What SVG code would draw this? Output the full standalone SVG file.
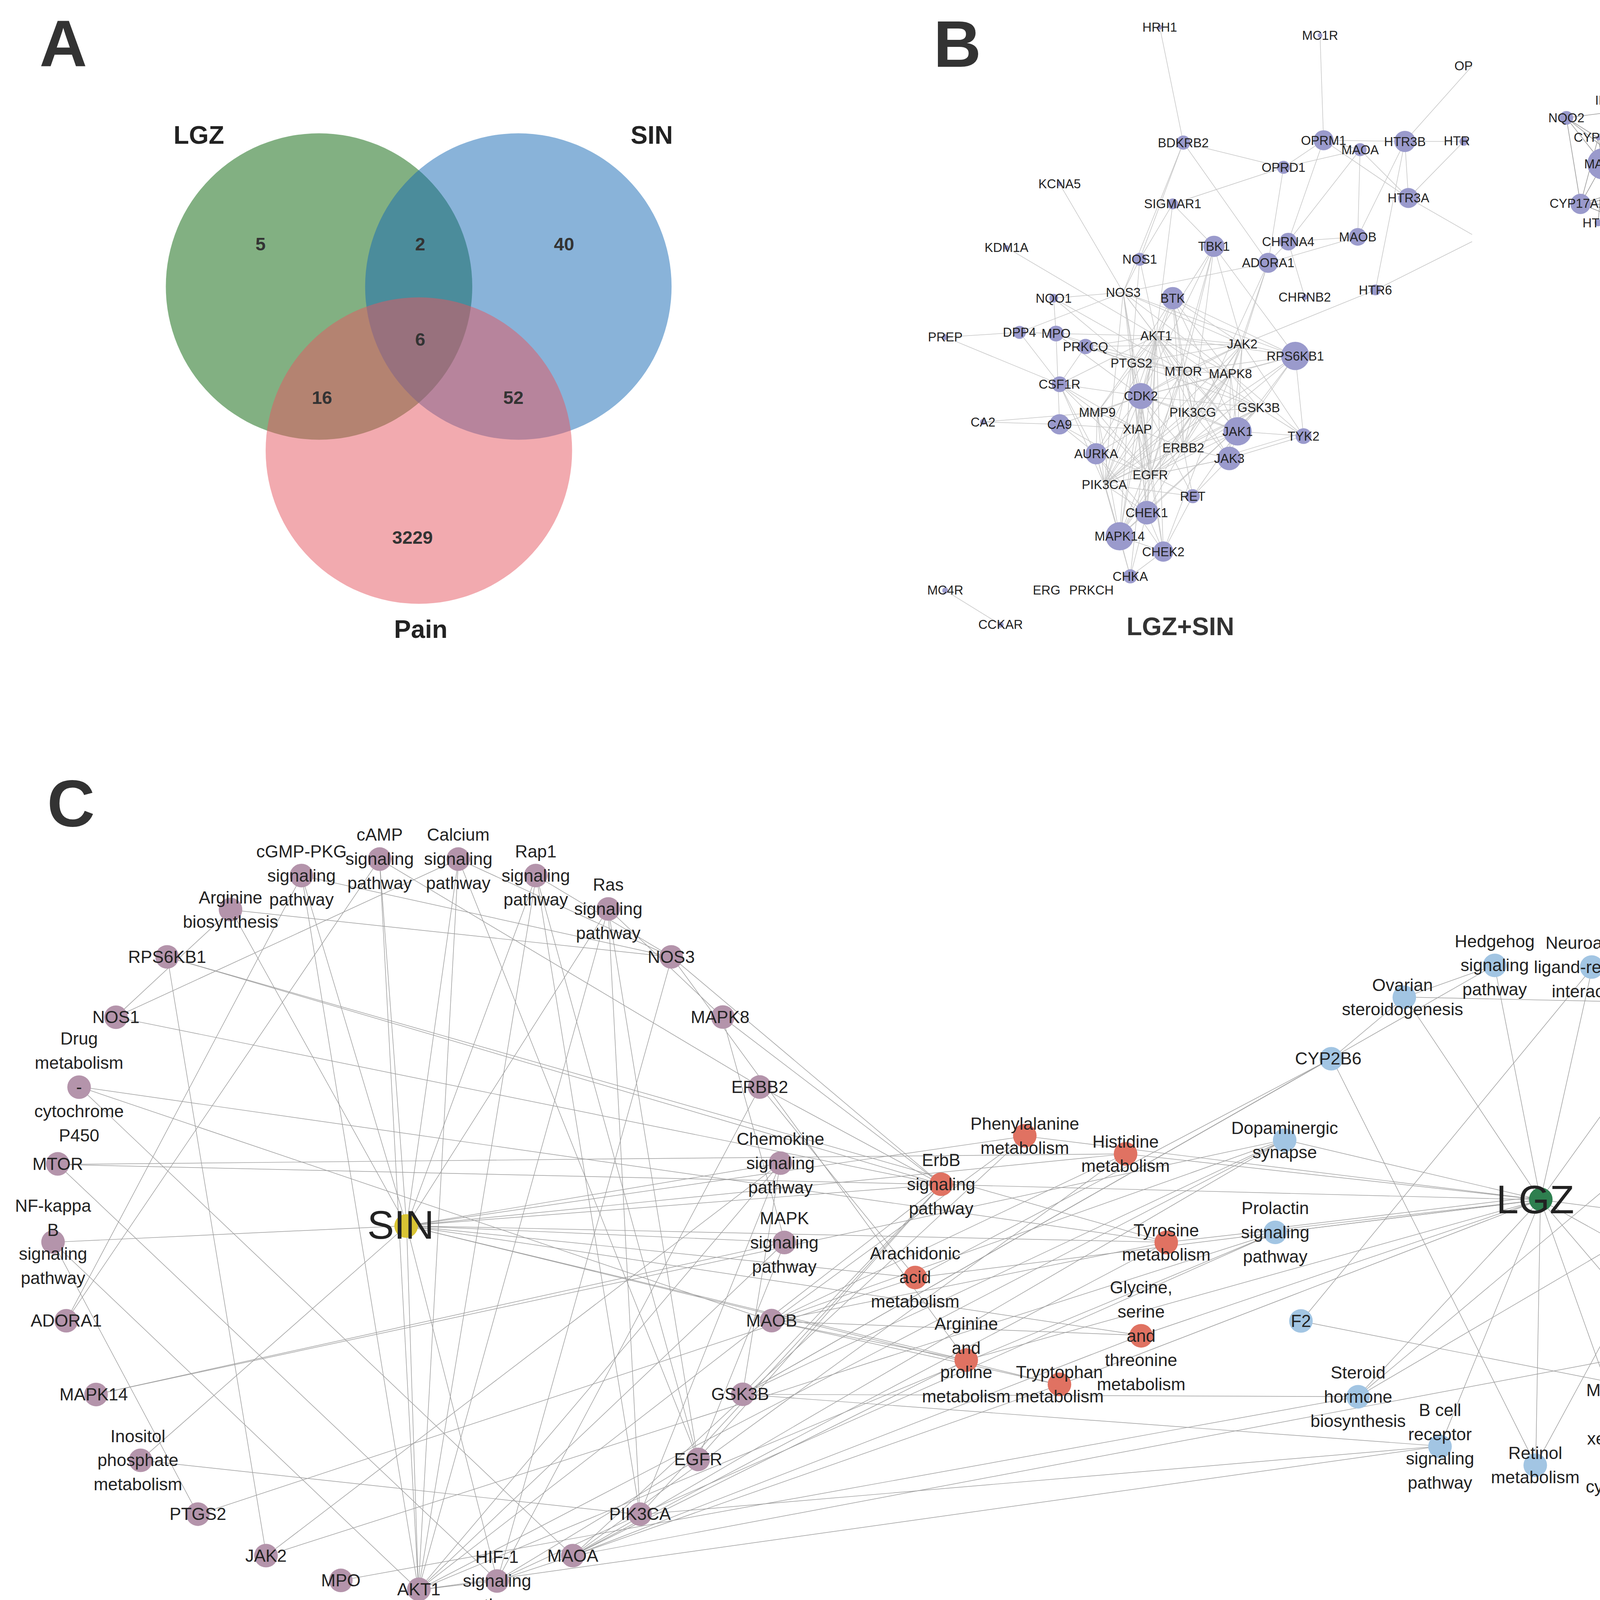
<svg xmlns="http://www.w3.org/2000/svg" width="4731" height="4159" viewBox="0 0 4731 4159">
<style>
text{font-family:'Liberation Sans',Arial,Helvetica,sans-serif}
.pl{font-size:56px;font-weight:bold;fill:#333}
.vl{font-size:21.5px;font-weight:bold;fill:#222;text-anchor:middle}
.vn{font-size:15.5px;font-weight:bold;fill:#333;text-anchor:middle}
.bt{font-size:21.5px;font-weight:bold;fill:#333;text-anchor:middle}
.bl{font-size:10.8px;fill:#222;text-anchor:middle}
.e1 path{stroke:#c6c6c6;stroke-width:0.5;fill:none}
.e2 path{stroke:#9b9b9b;stroke-width:0.55;fill:none}
.e3 path{stroke:#9c9c9c;stroke-width:0.48;fill:none}
.bn{fill:#9a9acc}
.cl{font-size:14.7px;fill:#222;text-anchor:middle}
.big{font-size:34px;fill:#222;text-anchor:middle}
.pu{fill:#b494ab}.rd{fill:#e07262}.bu{fill:#a2c5e3}
</style>
<rect width="4731" height="4159" fill="#fff"/>
<g transform="scale(3.01722)">
<g id="panel-labels">
<text class="pl" x="33.5" y="56.4">A</text>
<text class="pl" x="792" y="56.6">B</text>
<text class="pl" x="40" y="701">C</text>
</g>
<g id="venn">
<g id="venn-lgz"><circle cx="270.7" cy="243.1" r="130" fill="#056105" fill-opacity="0.5"/><text class="vl" x="168.7" y="122">LGZ</text></g>
<g id="venn-sin"><circle cx="439.8" cy="243.1" r="130" fill="#1367b3" fill-opacity="0.5"/><text class="vl" x="553" y="122">SIN</text></g>
<g id="venn-pain"><circle cx="355.4" cy="382.3" r="130" fill="#e5555f" fill-opacity="0.5"/><text class="vl" x="357" y="541.3">Pain</text></g>
<g id="venn-numbers">
<text class="vn" x="221.1" y="212.3">5</text>
<text class="vn" x="356.5" y="212.3">2</text>
<text class="vn" x="478.6" y="212.3">40</text>
<text class="vn" x="356.5" y="293.2">6</text>
<text class="vn" x="273.2" y="342.8">16</text>
<text class="vn" x="435.6" y="342.8">52</text>
<text class="vn" x="350" y="461.3">3229</text>
</g>
</g>
<g id="b-lgzsin-edges" class="e1">
<path d="M984 23L1004 121"/><path d="M1120 30L1123 119"/><path d="M1249 56L1192 120"/><path d="M1004 121L1089 142"/><path d="M1004 121L967 220"/><path d="M1004 121L953 248"/><path d="M1004 121L1076 223"/><path d="M1123 119L1089 142"/><path d="M1123 119L1154 127"/><path d="M1123 119L1192 120"/><path d="M1192 120L1242 120"/><path d="M1123 119L1093 205"/><path d="M1123 119L1195 168"/><path d="M1089 142L995 173"/><path d="M1089 142L1154 127"/><path d="M1089 142L1076 223"/><path d="M1154 127L1093 205"/><path d="M1154 127L1152 201"/><path d="M1154 127L1195 168"/><path d="M1192 120L1195 168"/><path d="M1192 120L1152 201"/><path d="M1192 120L1167 246"/><path d="M1242 120L1195 168"/><path d="M1195 168L1249 199"/><path d="M1249 205L1167 246"/>
<path d="M899 156L953 248"/><path d="M854 210L981 285"/><path d="M995 173L1030 209"/><path d="M995 173L967 220"/><path d="M995 173L981 285"/><path d="M967 220L953 248"/><path d="M967 220L981 285"/><path d="M967 220L960 308"/><path d="M1030 209L981 285"/><path d="M1030 209L1004 315"/><path d="M1030 209L968 336"/><path d="M1030 209L1054 292"/><path d="M1030 209L976 403"/><path d="M1030 209L1099 302"/><path d="M1030 209L1012 350"/><path d="M1093 205L1152 201"/><path d="M1093 205L1107 252"/><path d="M1093 205L1076 223"/><path d="M1076 223L953 248"/><path d="M1076 223L1152 201"/><path d="M1076 223L1044 317"/><path d="M1076 223L1054 292"/><path d="M1076 223L1004 380"/><path d="M1167 246L1054 292"/>
<path d="M894 253L896 283"/><path d="M894 253L953 248"/><path d="M894 253L960 308"/><path d="M894 253L1004 315"/><path d="M995 253L981 285"/><path d="M995 253L960 308"/><path d="M995 253L1004 315"/><path d="M995 253L1054 292"/><path d="M995 253L1012 350"/><path d="M995 253L1099 302"/><path d="M995 253L1050 366"/><path d="M995 253L968 336"/><path d="M995 253L1004 380"/><path d="M995 253L1044 317"/>
<path d="M953 248L981 285"/><path d="M953 248L865 282"/><path d="M953 248L960 308"/><path d="M953 248L1004 315"/><path d="M953 248L968 336"/><path d="M953 248L1054 292"/><path d="M953 248L1099 302"/><path d="M953 248L937 411"/><path d="M953 248L976 403"/><path d="M953 248L1044 317"/>
<path d="M802 286L865 282"/><path d="M802 286L899 326"/><path d="M865 282L896 283"/><path d="M865 282L899 326"/><path d="M896 283L981 285"/><path d="M896 283L899 360"/><path d="M896 283L960 308"/><path d="M896 283L1004 315"/><path d="M896 283L968 336"/>
<path d="M921 294L981 285"/><path d="M921 294L1004 315"/><path d="M921 294L899 326"/><path d="M921 294L1054 292"/><path d="M921 294L1068 346"/>
<path d="M899 326L968 336"/><path d="M899 326L931 350"/><path d="M899 326L981 285"/><path d="M899 326L930 385"/><path d="M899 326L976 403"/><path d="M899 326L937 411"/><path d="M899 326L965 364"/>
<path d="M834 358L899 360"/><path d="M834 358L931 350"/><path d="M899 360L930 385"/><path d="M899 360L965 364"/><path d="M899 360L968 336"/><path d="M899 360L976 403"/>
<path d="M981 285L960 308"/><path d="M981 285L1004 315"/><path d="M981 285L968 336"/><path d="M981 285L1054 292"/><path d="M981 285L1044 317"/><path d="M981 285L1099 302"/><path d="M981 285L1068 346"/><path d="M981 285L976 403"/><path d="M981 285L937 411"/><path d="M981 285L1004 380"/><path d="M981 285L965 364"/><path d="M981 285L931 350"/><path d="M981 285L1012 350"/><path d="M981 285L950 455"/><path d="M981 285L973 435"/><path d="M981 285L930 385"/><path d="M981 285L1050 366"/><path d="M981 285L1043 389"/><path d="M981 285L987 468"/>
<path d="M1054 292L1099 302"/><path d="M1054 292L1004 315"/><path d="M1054 292L1044 317"/><path d="M1054 292L1050 366"/><path d="M1054 292L1043 389"/><path d="M1054 292L1106 370"/><path d="M1054 292L1012 350"/><path d="M1054 292L976 403"/><path d="M1054 292L937 411"/><path d="M1054 292L968 336"/><path d="M1054 292L960 308"/>
<path d="M1099 302L1004 315"/><path d="M1099 302L968 336"/><path d="M1099 302L1044 317"/><path d="M1099 302L1068 346"/><path d="M1099 302L937 411"/><path d="M1099 302L976 403"/><path d="M1099 302L1106 370"/><path d="M1099 302L1050 366"/>
<path d="M960 308L1004 315"/><path d="M960 308L968 336"/><path d="M960 308L976 403"/><path d="M960 308L931 350"/><path d="M960 308L937 411"/><path d="M960 308L965 364"/><path d="M960 308L950 455"/><path d="M960 308L973 435"/>
<path d="M1004 315L968 336"/><path d="M1004 315L1044 317"/><path d="M1004 315L1012 350"/><path d="M1004 315L1068 346"/><path d="M1004 315L976 403"/><path d="M1004 315L937 411"/><path d="M1004 315L1004 380"/><path d="M1004 315L1050 366"/><path d="M1004 315L950 455"/>
<path d="M1044 317L1012 350"/><path d="M1044 317L1068 346"/><path d="M1044 317L976 403"/><path d="M1044 317L937 411"/><path d="M1044 317L1004 380"/><path d="M1044 317L1050 366"/><path d="M1044 317L1043 389"/><path d="M1044 317L950 455"/><path d="M1044 317L968 336"/><path d="M1044 317L1106 370"/>
<path d="M968 336L931 350"/><path d="M968 336L1012 350"/><path d="M968 336L1068 346"/><path d="M968 336L976 403"/><path d="M968 336L937 411"/><path d="M968 336L1004 380"/><path d="M968 336L965 364"/><path d="M968 336L930 385"/><path d="M968 336L973 435"/><path d="M968 336L987 468"/><path d="M968 336L950 455"/><path d="M968 336L1050 366"/><path d="M968 336L1012 421"/>
<path d="M931 350L976 403"/><path d="M931 350L937 411"/><path d="M931 350L965 364"/><path d="M931 350L930 385"/><path d="M931 350L950 455"/><path d="M931 350L1004 380"/>
<path d="M1012 350L1068 346"/><path d="M1012 350L976 403"/><path d="M1012 350L937 411"/><path d="M1012 350L1004 380"/><path d="M1012 350L1050 366"/><path d="M1012 350L1043 389"/><path d="M1012 350L950 455"/>
<path d="M1068 346L976 403"/><path d="M1068 346L937 411"/><path d="M1068 346L1004 380"/><path d="M1068 346L1050 366"/><path d="M1068 346L1106 370"/><path d="M1068 346L973 435"/><path d="M1068 346L950 455"/>
<path d="M965 364L976 403"/><path d="M965 364L937 411"/><path d="M965 364L930 385"/><path d="M965 364L973 435"/>
<path d="M1050 366L1106 370"/><path d="M1050 366L1043 389"/><path d="M1050 366L1004 380"/><path d="M1050 366L976 403"/><path d="M1043 389L1106 370"/><path d="M1043 386L1106 367"/><path d="M1043 389L976 403"/><path d="M1043 389L937 411"/><path d="M1043 389L1004 380"/><path d="M1043 389L1012 421"/>
<path d="M930 385L976 403"/><path d="M930 385L937 411"/><path d="M930 385L973 435"/><path d="M930 385L950 455"/><path d="M930 385L987 468"/>
<path d="M1004 380L976 403"/><path d="M1004 380L937 411"/><path d="M1004 380L1012 421"/><path d="M1004 380L973 435"/>
<path d="M976 403L937 411"/><path d="M976 403L1012 421"/><path d="M976 403L973 435"/><path d="M976 403L950 455"/><path d="M976 403L987 468"/>
<path d="M937 411L1012 421"/><path d="M937 411L973 435"/><path d="M937 411L950 455"/><path d="M937 411L959 489"/>
<path d="M973 435L987 468"/><path d="M973 435L950 455"/><path d="M973 435L959 489"/><path d="M950 455L987 468"/><path d="M950 455L959 489"/><path d="M987 468L959 489"/><path d="M1012 421L987 468"/><path d="M959 489L981 285"/><path d="M987 468L1054 292"/><path d="M1012 421L1050 366"/>
<path d="M802 501L849 530"/>
</g>
<g id="b-lgzsin-nodes">
<g id="bs-HRH1"><circle class="bn" cx="984" cy="23" r="2"/><text class="bl" x="984" y="26.8">HRH1</text></g>
<g id="bs-MC1R"><circle class="bn" cx="1120" cy="30" r="2"/><text class="bl" x="1120" y="33.8">MC1R</text></g>
<g id="bs-OP"><text class="bl" x="1234" y="59.5" style="text-anchor:start">OP</text></g>
<g id="bs-BDKRB2"><circle class="bn" cx="1004" cy="121" r="6"/><text class="bl" x="1004" y="124.8">BDKRB2</text></g>
<g id="bs-OPRM1"><circle class="bn" cx="1123" cy="119" r="8.5"/><text class="bl" x="1123" y="122.8">OPRM1</text></g>
<g id="bs-MAOA"><circle class="bn" cx="1154" cy="127" r="5.5"/><text class="bl" x="1154" y="130.8">MAOA</text></g>
<g id="bs-HTR3B"><circle class="bn" cx="1192" cy="120" r="9"/><text class="bl" x="1192" y="123.8">HTR3B</text></g>
<g id="bs-HTR"><circle class="bn" cx="1242" cy="120" r="3.7"/><text class="bl" x="1225" y="123.3" style="text-anchor:start">HTR</text></g>
<g id="bs-OPRD1"><circle class="bn" cx="1089" cy="142" r="5.5"/><text class="bl" x="1089" y="145.8">OPRD1</text></g>
<g id="bs-KCNA5"><circle class="bn" cx="899" cy="156" r="2"/><text class="bl" x="899" y="159.8">KCNA5</text></g>
<g id="bs-SIGMAR1"><circle class="bn" cx="995" cy="173" r="4.6"/><text class="bl" x="995" y="176.8">SIGMAR1</text></g>
<g id="bs-HTR3A"><circle class="bn" cx="1195" cy="168" r="8.5"/><text class="bl" x="1195" y="171.8">HTR3A</text></g>
<g id="bs-KDM1A"><circle class="bn" cx="854" cy="210" r="2"/><text class="bl" x="854" y="213.8">KDM1A</text></g>
<g id="bs-NOS1"><circle class="bn" cx="967" cy="220" r="5.5"/><text class="bl" x="967" y="223.8">NOS1</text></g>
<g id="bs-TBK1"><circle class="bn" cx="1030" cy="209" r="9"/><text class="bl" x="1030" y="212.8">TBK1</text></g>
<g id="bs-CHRNA4"><circle class="bn" cx="1093" cy="205" r="7.5"/><text class="bl" x="1093" y="208.8">CHRNA4</text></g>
<g id="bs-MAOB"><circle class="bn" cx="1152" cy="201" r="7.5"/><text class="bl" x="1152" y="204.8">MAOB</text></g>
<g id="bs-ADORA1"><circle class="bn" cx="1076" cy="223" r="8.5"/><text class="bl" x="1076" y="226.8">ADORA1</text></g>
<g id="bs-HTR6"><circle class="bn" cx="1167" cy="246" r="4.6"/><text class="bl" x="1167" y="249.8">HTR6</text></g>
<g id="bs-CHRNB2"><circle class="bn" cx="1107" cy="252" r="2.5"/><text class="bl" x="1107" y="255.8">CHRNB2</text></g>
<g id="bs-NOS3"><text class="bl" x="953" y="251.8">NOS3</text></g>
<g id="bs-BTK"><circle class="bn" cx="995" cy="253" r="9.5"/><text class="bl" x="995" y="256.8">BTK</text></g>
<g id="bs-NQO1"><circle class="bn" cx="894" cy="253" r="3.7"/><text class="bl" x="894" y="256.8">NQO1</text></g>
<g id="bs-DPP4"><circle class="bn" cx="865" cy="282" r="5.5"/><text class="bl" x="865" y="285.8">DPP4</text></g>
<g id="bs-MPO"><circle class="bn" cx="896" cy="283" r="6.7"/><text class="bl" x="896" y="286.8">MPO</text></g>
<g id="bs-PREP"><circle class="bn" cx="802" cy="286" r="2.5"/><text class="bl" x="802" y="289.8">PREP</text></g>
<g id="bs-AKT1"><text class="bl" x="981" y="288.8">AKT1</text></g>
<g id="bs-PRKCQ"><circle class="bn" cx="921" cy="294" r="6.5"/><text class="bl" x="921" y="297.8">PRKCQ</text></g>
<g id="bs-JAK2"><text class="bl" x="1054" y="295.8">JAK2</text></g>
<g id="bs-RPS6KB1"><circle class="bn" cx="1099" cy="302" r="12"/><text class="bl" x="1099" y="305.8">RPS6KB1</text></g>
<g id="bs-PTGS2"><text class="bl" x="960" y="311.8">PTGS2</text></g>
<g id="bs-MTOR"><text class="bl" x="1004" y="318.8">MTOR</text></g>
<g id="bs-MAPK8"><text class="bl" x="1044" y="320.8">MAPK8</text></g>
<g id="bs-CSF1R"><circle class="bn" cx="899" cy="326" r="6.7"/><text class="bl" x="899" y="329.8">CSF1R</text></g>
<g id="bs-CDK2"><circle class="bn" cx="968" cy="336" r="11"/><text class="bl" x="968" y="339.8">CDK2</text></g>
<g id="bs-MMP9"><text class="bl" x="931" y="353.8">MMP9</text></g>
<g id="bs-PIK3CG"><text class="bl" x="1012" y="353.8">PIK3CG</text></g>
<g id="bs-GSK3B"><text class="bl" x="1068" y="349.8">GSK3B</text></g>
<g id="bs-CA2"><circle class="bn" cx="834" cy="358" r="2.5"/><text class="bl" x="834" y="361.8">CA2</text></g>
<g id="bs-CA9"><circle class="bn" cx="899" cy="360" r="8.6"/><text class="bl" x="899" y="363.8">CA9</text></g>
<g id="bs-XIAP"><text class="bl" x="965" y="367.8">XIAP</text></g>
<g id="bs-JAK1"><circle class="bn" cx="1050" cy="366" r="12"/><text class="bl" x="1050" y="369.8">JAK1</text></g>
<g id="bs-TYK2"><circle class="bn" cx="1106" cy="370" r="6.7"/><text class="bl" x="1106" y="373.8">TYK2</text></g>
<g id="bs-AURKA"><circle class="bn" cx="930" cy="385" r="9"/><text class="bl" x="930" y="388.8">AURKA</text></g>
<g id="bs-ERBB2"><text class="bl" x="1004" y="383.8">ERBB2</text></g>
<g id="bs-JAK3"><circle class="bn" cx="1043" cy="389" r="10"/><text class="bl" x="1043" y="392.8">JAK3</text></g>
<g id="bs-EGFR"><text class="bl" x="976" y="406.8">EGFR</text></g>
<g id="bs-PIK3CA"><text class="bl" x="937" y="414.8">PIK3CA</text></g>
<g id="bs-RET"><circle class="bn" cx="1012" cy="421" r="6"/><text class="bl" x="1012" y="424.8">RET</text></g>
<g id="bs-CHEK1"><circle class="bn" cx="973" cy="435" r="10"/><text class="bl" x="973" y="438.8">CHEK1</text></g>
<g id="bs-MAPK14"><circle class="bn" cx="950" cy="455" r="12"/><text class="bl" x="950" y="458.8">MAPK14</text></g>
<g id="bs-CHEK2"><circle class="bn" cx="987" cy="468" r="8.6"/><text class="bl" x="987" y="471.8">CHEK2</text></g>
<g id="bs-CHKA"><circle class="bn" cx="959" cy="489" r="6"/><text class="bl" x="959" y="492.8">CHKA</text></g>
<g id="bs-MC4R"><circle class="bn" cx="802" cy="501" r="2.5"/><text class="bl" x="802" y="504.5">MC4R</text></g>
<g id="bs-ERG"><text class="bl" x="888" y="504.5">ERG</text></g>
<g id="bs-PRKCH"><text class="bl" x="926" y="504.5">PRKCH</text></g>
<g id="bs-CCKAR"><circle class="bn" cx="849" cy="530" r="2.5"/><text class="bl" x="849" y="533.6">CCKAR</text></g>
<text class="bt" x="1001.5" y="539">LGZ+SIN</text>
</g>
<g id="b-lgz-edges" class="e2">
<path d="M1387 41L1431 36"/><path d="M1387 41L1472 63"/><path d="M1387 41L1445 85"/><path d="M1387 41L1366 85"/><path d="M1387 41L1356 117"/><path d="M1387 41L1400 108"/><path d="M1431 36L1366 85"/><path d="M1431 36L1445 85"/><path d="M1431 36L1472 63"/><path d="M1431 36L1476 129"/><path d="M1472 63L1519 72"/><path d="M1472 63L1445 85"/><path d="M1472 63L1476 129"/><path d="M1472 63L1503 120"/><path d="M1519 72L1503 120"/><path d="M1366 85L1445 85"/><path d="M1366 85L1360 139"/><path d="M1366 85L1443 175"/><path d="M1445 85L1329 100"/><path d="M1445 85L1400 108"/><path d="M1445 85L1476 129"/><path d="M1445 85L1356 117"/><path d="M1329 100L1356 117"/><path d="M1329 100L1360 139"/><path d="M1329 100L1341 173"/><path d="M1329 100L1398 155"/><path d="M1400 108L1356 117"/><path d="M1400 108L1476 129"/><path d="M1400 108L1360 139"/><path d="M1400 108L1398 155"/><path d="M1400 108L1379 202"/><path d="M1400 108L1443 175"/><path d="M1356 117L1476 129"/><path d="M1356 117L1360 139"/><path d="M1356 117L1438 146"/><path d="M1356 117L1398 155"/><path d="M1356 117L1341 173"/><path d="M1356 117L1443 175"/><path d="M1356 117L1425 206"/><path d="M1356 117L1412 184"/><path d="M1476 129L1503 120"/><path d="M1476 129L1513 158"/><path d="M1476 129L1412 184"/><path d="M1476 129L1379 202"/><path d="M1503 120L1425 206"/><path d="M1360 139L1438 146"/><path d="M1360 139L1398 155"/><path d="M1360 139L1341 173"/><path d="M1360 139L1356 189"/><path d="M1360 139L1379 202"/><path d="M1360 139L1425 206"/><path d="M1360 139L1443 175"/><path d="M1438 146L1398 155"/><path d="M1438 146L1379 202"/><path d="M1438 146L1425 206"/><path d="M1443 175L1452 228"/><path d="M1398 155L1341 173"/><path d="M1398 157L1341 175"/><path d="M1398 155L1443 175"/><path d="M1398 155L1425 206"/><path d="M1398 155L1412 184"/><path d="M1398 155L1379 202"/><path d="M1341 173L1443 175"/><path d="M1341 173L1425 206"/><path d="M1356 189L1443 175"/><path d="M1379 202L1425 206"/><path d="M1379 202L1443 175"/><path d="M1412 184L1425 206"/><path d="M1412 184L1443 175"/><path d="M1425 206L1443 175"/>
</g>
<g id="b-lgz-nodes">
<g id="bl-FLT3"><circle class="bn" cx="1387" cy="41" r="7"/><text class="bl" x="1387" y="44.8">FLT3</text></g>
<g id="bl-CCR1"><circle class="bn" cx="1431" cy="36" r="5.5"/><text class="bl" x="1430.5" y="39.8">CCR1</text></g>
<g id="bl-ELANE"><circle class="bn" cx="1472" cy="63" r="7"/><text class="bl" x="1472" y="66.8">ELANE</text></g>
<g id="bl-CTRC"><circle class="bn" cx="1519" cy="72" r="2"/><text class="bl" x="1519" y="75.3">CTRC</text></g>
<g id="bl-IDO1"><circle class="bn" cx="1366" cy="85" r="5.8"/><text class="bl" x="1366" y="88.8">IDO1</text></g>
<g id="bl-MPO"><circle class="bn" cx="1445" cy="85" r="9.5"/><text class="bl" x="1445" y="88.8">MPO</text></g>
<g id="bl-NQO2"><circle class="bn" cx="1329" cy="100" r="5.8"/><text class="bl" x="1329" y="103.8">NQO2</text></g>
<g id="bl-GSK3B"><circle class="bn" cx="1400" cy="108" r="9"/><text class="bl" x="1399.5" y="111.8">GSK3B</text></g>
<g id="bl-CYP3A4"><circle class="bn" cx="1356" cy="117" r="2"/><text class="bl" x="1356" y="120.3">CYP3A4</text></g>
<g id="bl-PRSS1"><circle class="bn" cx="1503" cy="120" r="4.5"/><text class="bl" x="1502" y="124.2">PRSS1</text></g>
<g id="bl-F2"><circle class="bn" cx="1476" cy="129" r="11"/><text class="bl" x="1476" y="132.8">F2</text></g>
<g id="bl-MAOA"><circle class="bn" cx="1360" cy="139" r="13.2"/><text class="bl" x="1360" y="142.8">MAOA</text></g>
<g id="bl-CYP2A6"><circle class="bn" cx="1438" cy="146" r="9"/><text class="bl" x="1436.5" y="150.2">CYP2A6</text></g>
<g id="bl-CYP19A1"><circle class="bn" cx="1398" cy="155" r="11.2"/><text class="bl" x="1398" y="158.8">CYP19A1</text></g>
<g id="bl-BDKRB2"><text class="bl" x="1514.6" y="166">BDKRB2</text></g>
<g id="bl-CYP17A1"><circle class="bn" cx="1341" cy="173" r="8.6"/><text class="bl" x="1338.5" y="176.3">CYP17A1</text></g>
<g id="bl-DRD2"><circle class="bn" cx="1443" cy="175" r="1.5"/><text class="bl" x="1443.4" y="179">DRD2</text></g>
<g id="bl-CA2"><circle class="bn" cx="1412" cy="184" r="4.9"/><text class="bl" x="1412.3" y="188">CA2</text></g>
<g id="bl-HTR6"><circle class="bn" cx="1356" cy="189" r="3"/><text class="bl" x="1356.8" y="192.8">HTR6</text></g>
<g id="bl-SLC6A3"><circle class="bn" cx="1379" cy="202" r="8.2"/><text class="bl" x="1377.9" y="205.4">SLC6A3</text></g>
<g id="bl-CYP2B6"><circle class="bn" cx="1425" cy="206" r="11.2"/><text class="bl" x="1423.9" y="209.9">CYP2B6</text></g>
<g id="bl-KCNK2"><text class="bl" x="1451.3" y="236.5">KCNK2</text></g>
<text class="bt" x="1444.4" y="275.5">LGZ</text>
</g>
<g id="b-sin-edges" class="e1">
<path d="M1380 377L1406 407"/><path d="M1406 407L1439 433"/><path d="M1439 433L1478 445"/>
</g>
<g id="b-sin-nodes">
<g id="bn-MPO"><circle class="bn" cx="1380" cy="377" r="2.8"/><text class="bl" x="1380" y="380.8">MPO</text></g>
<g id="bn-GSK3B"><circle class="bn" cx="1406" cy="407" r="14"/><text class="bl" x="1405.5" y="411">GSK3B</text></g>
<g id="bn-MAOA"><circle class="bn" cx="1439" cy="433" r="14"/><text class="bl" x="1439" y="437">MAOA</text></g>
<g id="bn-HTR6"><circle class="bn" cx="1478" cy="445" r="2.8"/><text class="bl" x="1478" y="448.8">HTR6</text></g>
<g id="bn-CA2"><text class="bl" x="1380" y="452.6">CA2</text></g>
<g id="bn-BDKRB2"><text class="bl" x="1416" y="459.3">BDKRB2</text></g>
<text class="bt" x="1441" y="539.5">SIN</text>
</g>
<g id="c-edges" class="e3">
<path d="M345 1040L196 772"/><path d="M345 1040L256 743"/><path d="M345 1040L322 729"/><path d="M345 1040L389 729"/><path d="M345 1040L455 743"/><path d="M345 1040L516 771"/><path d="M345 1040L45 1054"/><path d="M345 1040L119 1239"/><path d="M345 1040L422 1341"/><path d="M345 1040L355 1349"/><path d="M345 1040L662 987"/><path d="M345 1040L666 1054"/><path d="M345 1040L870 964"/><path d="M345 1040L955 979"/><path d="M345 1040L799 1005"/><path d="M345 1040L777 1084"/><path d="M345 1040L990 1054"/><path d="M345 1040L968 1133"/><path d="M345 1040L820 1154"/><path d="M345 1040L899 1175"/>
<path d="M49 988L955 979"/><path d="M49 988L799 1005"/><path d="M49 988L422 1341"/>
<path d="M142 812L799 1005"/><path d="M142 812L990 1054"/><path d="M142 812L226 1320"/>
<path d="M98 863L196 772"/><path d="M98 863L389 729"/><path d="M98 863L799 1005"/>
<path d="M570 812L196 772"/><path d="M570 812L256 743"/><path d="M570 812L389 729"/><path d="M570 812L455 743"/><path d="M570 812L820 1154"/><path d="M570 812L422 1341"/><path d="M570 812L799 1005"/>
<path d="M613 863L516 771"/><path d="M613 863L799 1005"/><path d="M613 863L666 1054"/>
<path d="M645 922L799 1005"/><path d="M645 922L777 1084"/><path d="M645 922L322 729"/><path d="M645 922L422 1341"/>
<path d="M662 987L226 1320"/><path d="M662 987L355 1349"/><path d="M662 987L543 1285"/><path d="M662 987L630 1183"/>
<path d="M666 1054L82 1183"/><path d="M666 1054L592 1238"/><path d="M666 1054L355 1349"/>
<path d="M67 922L655 1121"/><path d="M67 922L486 1320"/><path d="M67 922L990 1054"/>
<path d="M45 1054L168 1285"/><path d="M56 1121L256 743"/><path d="M56 1121L322 729"/><path d="M82 1183L1090 967"/><path d="M119 1239L543 1285"/><path d="M168 1285L777 1084"/><path d="M226 1320L1082 1046"/><path d="M289 1341L1152 1185"/>
<path d="M355 1349L256 743"/><path d="M355 1349L322 729"/><path d="M355 1349L389 729"/><path d="M355 1349L455 743"/><path d="M355 1349L516 771"/><path d="M355 1349L422 1341"/><path d="M355 1349L799 1005"/><path d="M355 1349L1082 1046"/><path d="M355 1349L1222 1227"/><path d="M355 1349L1090 967"/><path d="M355 1349L45 1054"/>
<path d="M486 1320L870 964"/><path d="M486 1320L955 979"/><path d="M486 1320L990 1054"/><path d="M486 1320L899 1175"/><path d="M486 1320L968 1133"/><path d="M486 1320L820 1154"/><path d="M486 1320L1505 1128"/><path d="M486 1320L1090 967"/><path d="M486 1320L422 1341"/>
<path d="M543 1285L455 743"/><path d="M543 1285L516 771"/><path d="M543 1285L422 1341"/><path d="M543 1285L799 1005"/><path d="M543 1285L1082 1046"/><path d="M543 1285L1222 1227"/>
<path d="M592 1238L455 743"/><path d="M592 1238L516 771"/><path d="M592 1238L389 729"/><path d="M592 1238L799 1005"/><path d="M592 1238L422 1341"/>
<path d="M630 1183L1222 1227"/><path d="M630 1183L1152 1185"/><path d="M630 1183L799 1005"/><path d="M630 1183L1268 819"/><path d="M630 1183L1090 967"/>
<path d="M655 1121L870 964"/><path d="M655 1121L955 979"/><path d="M655 1121L990 1054"/><path d="M655 1121L899 1175"/><path d="M655 1121L968 1133"/><path d="M655 1121L820 1154"/><path d="M655 1121L1090 967"/>
<path d="M1307 1018L1268 819"/><path d="M1307 1018L1351 821"/><path d="M1307 1018L1192 846"/><path d="M1307 1018L1427 851"/><path d="M1307 1018L1090 967"/><path d="M1307 1018L1082 1046"/><path d="M1307 1015L1082 1042"/><path d="M1307 1018L1525 1046"/><path d="M1307 1018L1505 1128"/><path d="M1307 1018L1454 1190"/><path d="M1307 1018L1152 1185"/><path d="M1307 1018L1383 1231"/><path d="M1307 1018L1222 1227"/><path d="M1307 1018L1303 1243"/><path d="M1307 1018L870 964"/><path d="M1307 1018L955 979"/><path d="M1307 1018L799 1005"/><path d="M1307 1018L777 1084"/><path d="M1307 1018L990 1054"/><path d="M1307 1018L968 1133"/><path d="M1307 1018L820 1154"/><path d="M1307 1018L899 1175"/>
<path d="M1192 846L1427 851"/><path d="M1192 846L1130 898"/><path d="M1192 846L1268 819"/><path d="M1351 821L1104 1121"/><path d="M1351 821L1520 969"/>
<path d="M1130 898L777 1084"/><path d="M1130 898L630 1183"/><path d="M1130 898L1303 1243"/>
<path d="M1487 904L1152 1185"/><path d="M1487 904L1303 1243"/><path d="M1487 904L1383 1231"/><path d="M1487 904L1525 1046"/><path d="M1487 904L1505 1128"/>
<path d="M1520 969L1152 1185"/><path d="M1104 1121L1454 1190"/>
</g>
<g id="c-nodes">
<g id="c-argbio"><circle class="pu" cx="195.6" cy="771.7" r="10"/><text class="cl" x="195.6" y="766.5">Arginine<tspan x="195.6" dy="20.5">biosynthesis</tspan></text></g>
<g id="c-cgmp"><circle class="pu" cx="255.8" cy="742.9" r="10"/><text class="cl" x="255.8" y="727.4">cGMP-PKG<tspan x="255.8" dy="20.5">signaling</tspan><tspan x="255.8" dy="20.5">pathway</tspan></text></g>
<g id="c-camp"><circle class="pu" cx="322.1" cy="728.9" r="10"/><text class="cl" x="322.1" y="713.4">cAMP<tspan x="322.1" dy="20.5">signaling</tspan><tspan x="322.1" dy="20.5">pathway</tspan></text></g>
<g id="c-calcium"><circle class="pu" cx="388.8" cy="728.9" r="10"/><text class="cl" x="388.8" y="713.4">Calcium<tspan x="388.8" dy="20.5">signaling</tspan><tspan x="388.8" dy="20.5">pathway</tspan></text></g>
<g id="c-rap1"><circle class="pu" cx="454.6" cy="742.9" r="10"/><text class="cl" x="454.6" y="727.4">Rap1<tspan x="454.6" dy="20.5">signaling</tspan><tspan x="454.6" dy="20.5">pathway</tspan></text></g>
<g id="c-ras"><circle class="pu" cx="516.1" cy="771.2" r="10"/><text class="cl" x="516.1" y="755.7">Ras<tspan x="516.1" dy="20.5">signaling</tspan><tspan x="516.1" dy="20.5">pathway</tspan></text></g>
<g id="c-rps6kb1"><circle class="pu" cx="141.8" cy="811.9" r="10"/><text class="cl" x="141.8" y="816.9">RPS6KB1</text></g>
<g id="c-nos1"><circle class="pu" cx="98.4" cy="863.1" r="10"/><text class="cl" x="98.4" y="868.1">NOS1</text></g>
<g id="c-nos3"><circle class="pu" cx="569.5" cy="811.9" r="10"/><text class="cl" x="569.5" y="816.9">NOS3</text></g>
<g id="c-mapk8"><circle class="pu" cx="613.3" cy="862.9" r="10"/><text class="cl" x="611" y="867.9">MAPK8</text></g>
<g id="c-drugp450"><circle class="pu" cx="67.1" cy="922.4" r="10"/><text class="cl" x="67.1" y="886.4">Drug<tspan x="67.1" dy="20.5">metabolism</tspan><tspan x="67.1" dy="20.5">-</tspan><tspan x="67.1" dy="20.5">cytochrome</tspan><tspan x="67.1" dy="20.5">P450</tspan></text></g>
<g id="c-erbb2"><circle class="pu" cx="644.6" cy="922.3" r="10"/><text class="cl" x="644.6" y="927.3">ERBB2</text></g>
<g id="c-mtor"><circle class="pu" cx="49" cy="987.5" r="10"/><text class="cl" x="49" y="992.5">MTOR</text></g>
<g id="c-chemokine"><circle class="pu" cx="662.2" cy="986.9" r="10"/><text class="cl" x="662.2" y="971.4">Chemokine<tspan x="662.2" dy="20.5">signaling</tspan><tspan x="662.2" dy="20.5">pathway</tspan></text></g>
<g id="c-nfkb"><circle class="pu" cx="45" cy="1053.8" r="10"/><text class="cl" x="45" y="1028">NF-kappa<tspan x="45" dy="20.5">B</tspan><tspan x="45" dy="20.5">signaling</tspan><tspan x="45" dy="20.5">pathway</tspan></text></g>
<g id="c-mapkp"><circle class="pu" cx="665.5" cy="1054.2" r="10"/><text class="cl" x="665.5" y="1038.7">MAPK<tspan x="665.5" dy="20.5">signaling</tspan><tspan x="665.5" dy="20.5">pathway</tspan></text></g>
<g id="c-adora1"><circle class="pu" cx="56.2" cy="1120.6" r="10"/><text class="cl" x="56.2" y="1125.6">ADORA1</text></g>
<g id="c-maob"><circle class="pu" cx="654.7" cy="1120.5" r="10"/><text class="cl" x="654.7" y="1125.5">MAOB</text></g>
<g id="c-mapk14"><circle class="pu" cx="81.5" cy="1183.2" r="10"/><text class="cl" x="79.5" y="1188.2">MAPK14</text></g>
<g id="c-gsk3b"><circle class="pu" cx="630.2" cy="1183" r="10"/><text class="cl" x="628" y="1188">GSK3B</text></g>
<g id="c-inositol"><circle class="pu" cx="119.3" cy="1239" r="10"/><text class="cl" x="117" y="1223.5">Inositol<tspan x="117" dy="20.5">phosphate</tspan><tspan x="117" dy="20.5">metabolism</tspan></text></g>
<g id="c-egfr"><circle class="pu" cx="592.4" cy="1238.3" r="10"/><text class="cl" x="592.4" y="1243.3">EGFR</text></g>
<g id="c-ptgs2"><circle class="pu" cx="167.9" cy="1284.7" r="10"/><text class="cl" x="167.9" y="1289.7">PTGS2</text></g>
<g id="c-pik3ca"><circle class="pu" cx="543" cy="1284.7" r="10"/><text class="cl" x="543" y="1289.7">PIK3CA</text></g>
<g id="c-jak2"><circle class="pu" cx="225.7" cy="1319.9" r="10"/><text class="cl" x="225.7" y="1324.9">JAK2</text></g>
<g id="c-maoa"><circle class="pu" cx="486" cy="1319.9" r="10"/><text class="cl" x="486" y="1324.9">MAOA</text></g>
<g id="c-mpo"><circle class="pu" cx="289.2" cy="1340.9" r="10"/><text class="cl" x="289.2" y="1345.9">MPO</text></g>
<g id="c-akt1"><circle class="pu" cx="355.4" cy="1348.5" r="10"/><text class="cl" x="355.4" y="1353.5">AKT1</text></g>
<g id="c-hif1"><circle class="pu" cx="421.7" cy="1341.4" r="10"/><text class="cl" x="421.7" y="1325.9">HIF-1<tspan x="421.7" dy="20.5">signaling</tspan><tspan x="421.7" dy="20.5">pathway</tspan></text></g>
<g id="c-phe"><circle class="rd" cx="869.5" cy="963.6" r="10"/><text class="cl" x="869.5" y="958.4">Phenylalanine<tspan x="869.5" dy="20.5">metabolism</tspan></text></g>
<g id="c-his"><circle class="rd" cx="955" cy="979" r="10"/><text class="cl" x="955" y="973.8">Histidine<tspan x="955" dy="20.5">metabolism</tspan></text></g>
<g id="c-erbb"><circle class="rd" cx="798.5" cy="1004.8" r="10"/><text class="cl" x="798.5" y="989.3">ErbB<tspan x="798.5" dy="20.5">signaling</tspan><tspan x="798.5" dy="20.5">pathway</tspan></text></g>
<g id="c-arach"><circle class="rd" cx="776.5" cy="1083.9" r="10"/><text class="cl" x="776.5" y="1068.4">Arachidonic<tspan x="776.5" dy="20.5">acid</tspan><tspan x="776.5" dy="20.5">metabolism</tspan></text></g>
<g id="c-tyr"><circle class="rd" cx="989.5" cy="1054.2" r="10"/><text class="cl" x="989.5" y="1049">Tyrosine<tspan x="989.5" dy="20.5">metabolism</tspan></text></g>
<g id="c-gly"><circle class="rd" cx="968.2" cy="1133.4" r="10"/><text class="cl" x="968.2" y="1097.4">Glycine,<tspan x="968.2" dy="20.5">serine</tspan><tspan x="968.2" dy="20.5">and</tspan><tspan x="968.2" dy="20.5">threonine</tspan><tspan x="968.2" dy="20.5">metabolism</tspan></text></g>
<g id="c-argpro"><circle class="rd" cx="819.8" cy="1154" r="10"/><text class="cl" x="819.8" y="1128.3">Arginine<tspan x="819.8" dy="20.5">and</tspan><tspan x="819.8" dy="20.5">proline</tspan><tspan x="819.8" dy="20.5">metabolism</tspan></text></g>
<g id="c-trp"><circle class="rd" cx="898.9" cy="1174.6" r="10"/><text class="cl" x="898.9" y="1169.4">Tryptophan<tspan x="898.9" dy="20.5">metabolism</tspan></text></g>
<g id="c-hedgehog"><circle class="bu" cx="1268.2" cy="819.1" r="10"/><text class="cl" x="1268.2" y="803.6">Hedgehog<tspan x="1268.2" dy="20.5">signaling</tspan><tspan x="1268.2" dy="20.5">pathway</tspan></text></g>
<g id="c-neuro"><circle class="bu" cx="1350.5" cy="820.5" r="10"/><text class="cl" x="1350.5" y="805">Neuroactive<tspan x="1350.5" dy="20.5">ligand-receptor</tspan><tspan x="1350.5" dy="20.5">interaction</tspan></text></g>
<g id="c-ovarian"><circle class="bu" cx="1191.5" cy="846.2" r="10"/><text class="cl" x="1190" y="841">Ovarian<tspan x="1190" dy="20.5">steroidogenesis</tspan></text></g>
<g id="c-cyp19a1"><circle class="bu" cx="1427.2" cy="850.9" r="10"/><text class="cl" x="1425" y="855.9">CYP19A1</text></g>
<g id="c-cyp2b6"><circle class="bu" cx="1129.5" cy="898.3" r="10"/><text class="cl" x="1127" y="903.3">CYP2B6</text></g>
<g id="c-cyp3a4"><circle class="bu" cx="1486.7" cy="904.4" r="10"/><text class="cl" x="1484.5" y="909.4">CYP3A4</text></g>
<g id="c-dopa"><circle class="bu" cx="1090" cy="967.4" r="10"/><text class="cl" x="1090" y="962.2">Dopaminergic<tspan x="1090" dy="20.5">synapse</tspan></text></g>
<g id="c-drd2"><circle class="bu" cx="1519.5" cy="968.6" r="10"/><text class="cl" x="1519.5" y="973.6">DRD2</text></g>
<g id="c-prolactin"><circle class="bu" cx="1082" cy="1045.6" r="10"/><text class="cl" x="1082" y="1030.1">Prolactin<tspan x="1082" dy="20.5">signaling</tspan><tspan x="1082" dy="20.5">pathway</tspan></text></g>
<g id="c-linoleic"><circle class="bu" cx="1524.8" cy="1046.4" r="10"/><text class="cl" x="1524.8" y="1030.9">Linoleic<tspan x="1524.8" dy="20.5">acid</tspan><tspan x="1524.8" dy="20.5">metabolism</tspan></text></g>
<g id="c-f2"><circle class="bu" cx="1103.8" cy="1120.8" r="10"/><text class="cl" x="1103.8" y="1125.8">F2</text></g>
<g id="c-drugother"><circle class="bu" cx="1504.5" cy="1128.2" r="10"/><text class="cl" x="1502.5" y="1102.5">Drug<tspan x="1502.5" dy="20.5">metabolism</tspan><tspan x="1502.5" dy="20.5">- other</tspan><tspan x="1502.5" dy="20.5">enzymes</tspan></text></g>
<g id="c-steroid"><circle class="bu" cx="1152.3" cy="1185.1" r="10"/><text class="cl" x="1152.3" y="1169.6">Steroid<tspan x="1152.3" dy="20.5">hormone</tspan><tspan x="1152.3" dy="20.5">biosynthesis</tspan></text></g>
<g id="c-complement"><circle class="bu" cx="1453.8" cy="1190.1" r="10"/><text class="cl" x="1453.8" y="1164.4">Complement<tspan x="1453.8" dy="20.5">and</tspan><tspan x="1453.8" dy="20.5">coagulation</tspan><tspan x="1453.8" dy="20.5">cascades</tspan></text></g>
<g id="c-xeno"><circle class="bu" cx="1383.4" cy="1230.7" r="10"/><text class="cl" x="1383.4" y="1184.5">Metabolism<tspan x="1383.4" dy="20.5">of</tspan><tspan x="1383.4" dy="20.5">xenobiotics</tspan><tspan x="1383.4" dy="20.5">by</tspan><tspan x="1383.4" dy="20.5">cytochrome</tspan><tspan x="1383.4" dy="20.5">P450</tspan></text></g>
<g id="c-bcell"><circle class="bu" cx="1221.8" cy="1227.3" r="10"/><text class="cl" x="1221.8" y="1201.6">B cell<tspan x="1221.8" dy="20.5">receptor</tspan><tspan x="1221.8" dy="20.5">signaling</tspan><tspan x="1221.8" dy="20.5">pathway</tspan></text></g>
<g id="c-retinol"><circle class="bu" cx="1302.6" cy="1243.2" r="10"/><text class="cl" x="1302.6" y="1238">Retinol<tspan x="1302.6" dy="20.5">metabolism</tspan></text></g>
<g id="c-SIN"><circle cx="344.6" cy="1040.2" r="10" fill="#d9c434"/><text class="big" x="340" y="1051">SIN</text></g>
<g id="c-LGZ"><circle cx="1307.3" cy="1017.6" r="10" fill="#2e7f4f"/><text class="big" x="1302.6" y="1029.5">LGZ</text></g>
</g>
</g>
</svg>
